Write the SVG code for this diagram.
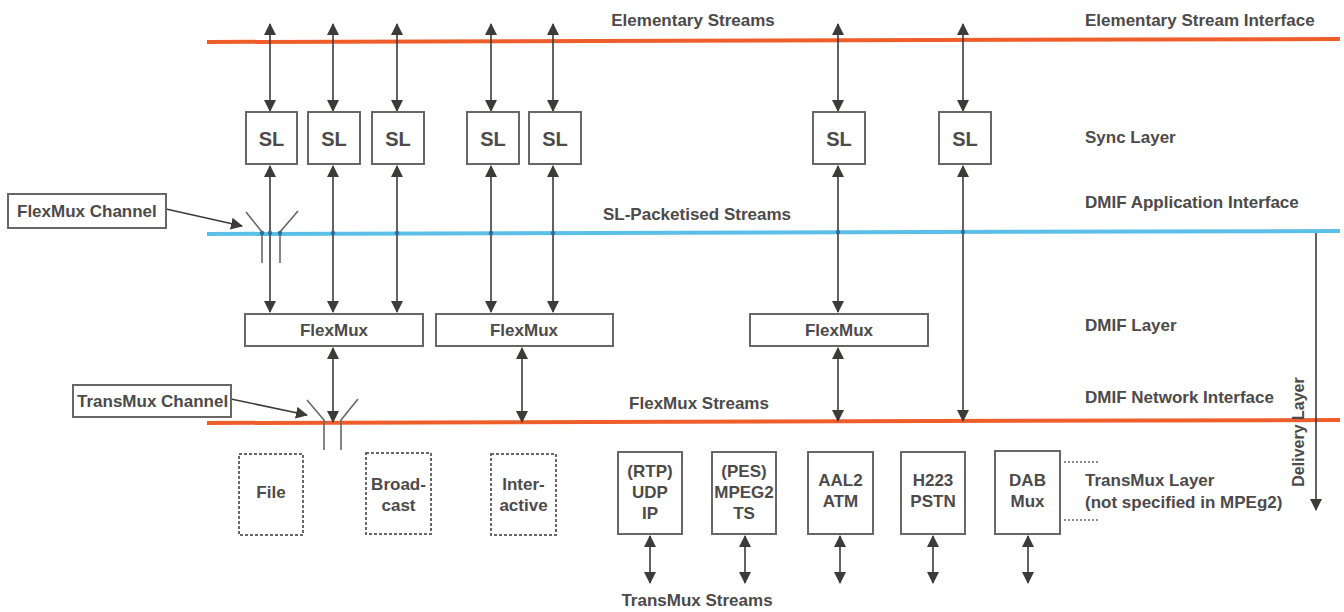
<svg xmlns="http://www.w3.org/2000/svg" width="1344" height="612" viewBox="0 0 1344 612">
<style>
text{font-family:"Liberation Sans",Arial,sans-serif;font-weight:bold;fill:#4d4a4a}
.lbl{font-size:17px}
.vl{font-size:16px}
.sl{font-size:20px;text-anchor:middle}
.box{fill:#fff;stroke:#6a6666;stroke-width:2}
.dbox{fill:#fff;stroke:#6a6666;stroke-width:2;stroke-dasharray:3 2}
.arr{stroke:#3d3a3a;stroke-width:1.6;fill:none}
.bi{marker-start:url(#ah);marker-end:url(#ah)}
.one{marker-end:url(#ah)}
.thin{stroke:#6a6666;stroke-width:1.6;fill:none}
.mid{text-anchor:middle}
</style>
<defs>
<marker id="ah" viewBox="0 0 12 12" refX="11" refY="6" markerWidth="12" markerHeight="12" markerUnits="userSpaceOnUse" orient="auto-start-reverse">
<path d="M0,0 L12,6 L0,12 Z" fill="#3d3a3a"/>
</marker>
</defs>

<g id="interfaces">
<line x1="207" y1="42" x2="1340" y2="39" stroke="#ef5e2a" stroke-width="4"/>
<line x1="207" y1="234" x2="1340" y2="231" stroke="#5cbfe8" stroke-width="4"/>
<line x1="207" y1="423" x2="1340" y2="420" stroke="#ef5e2a" stroke-width="4"/>
</g>

<g id="labels">
<text class="lbl mid" x="693" y="26">Elementary Streams</text>
<text class="lbl" x="1085" y="26">Elementary Stream Interface</text>
<text class="lbl" x="1085" y="143">Sync Layer</text>
<text class="lbl" x="1085" y="208">DMIF Application Interface</text>
<text class="lbl mid" x="697" y="220">SL-Packetised Streams</text>
<text class="lbl" x="1085" y="331">DMIF Layer</text>
<text class="lbl" x="1085" y="403">DMIF Network Interface</text>
<text class="lbl mid" x="699" y="409">FlexMux Streams</text>
<text class="lbl" x="1085" y="486">TransMux Layer</text>
<text class="lbl" x="1085" y="508">(not specified in MPEg2)</text>
<text class="lbl mid" x="697" y="606">TransMux Streams</text>
<text class="vl mid" x="1304" y="432" transform="rotate(-90 1304 432)">Delivery Layer</text>
</g>

<g id="connectors">
<line class="arr bi" x1="270" y1="24" x2="270" y2="111"/>
<line class="arr bi" x1="333" y1="24" x2="333" y2="111"/>
<line class="arr bi" x1="397" y1="24" x2="397" y2="111"/>
<line class="arr bi" x1="491" y1="24" x2="491" y2="111"/>
<line class="arr bi" x1="553" y1="24" x2="553" y2="111"/>
<line class="arr bi" x1="838" y1="24" x2="838" y2="111"/>
<line class="arr bi" x1="963" y1="24" x2="963" y2="111"/>
<line class="arr bi" x1="270" y1="166" x2="270" y2="312"/>
<line class="arr bi" x1="333" y1="166" x2="333" y2="312"/>
<line class="arr bi" x1="397" y1="166" x2="397" y2="312"/>
<line class="arr bi" x1="491" y1="166" x2="491" y2="312"/>
<line class="arr bi" x1="553" y1="166" x2="553" y2="312"/>
<line class="arr bi" x1="838" y1="166" x2="838" y2="312"/>
<line class="arr bi" x1="963" y1="166" x2="963" y2="421"/>
<line class="arr bi" x1="333" y1="348" x2="333" y2="422"/>
<line class="arr bi" x1="522" y1="348" x2="522" y2="422"/>
<line class="arr bi" x1="838" y1="348" x2="838" y2="421"/>
<line class="arr bi" x1="650" y1="536" x2="650" y2="583"/>
<line class="arr bi" x1="745" y1="536" x2="745" y2="583"/>
<line class="arr bi" x1="840" y1="536" x2="840" y2="583"/>
<line class="arr bi" x1="933" y1="536" x2="933" y2="583"/>
<line class="arr bi" x1="1028" y1="536" x2="1028" y2="583"/>
<line class="arr one" x1="1316" y1="233" x2="1316" y2="510"/>
<line class="arr one" x1="166" y1="209" x2="242" y2="226"/>
<line class="arr one" x1="231" y1="399" x2="307" y2="415"/>
<polyline class="thin" points="246,212 262,232 262,263"/>
<polyline class="thin" points="298,211 280,232 280,263"/>
<polyline class="thin" points="307,400 324,420 324,450"/>
<polyline class="thin" points="358,399 341,420 341,450"/>
<line x1="1064" y1="462" x2="1100" y2="462" stroke="#6a6666" stroke-width="1.5" stroke-dasharray="2 2"/>
<line x1="1064" y1="520" x2="1100" y2="520" stroke="#6a6666" stroke-width="1.5" stroke-dasharray="2 2"/>
<g fill="#2f6f95">
<circle cx="262" cy="233" r="2.2"/><circle cx="270" cy="233" r="2.2"/><circle cx="280" cy="233" r="2.2"/>
<circle cx="333" cy="233" r="2.2"/><circle cx="397" cy="233" r="2.2"/><circle cx="491" cy="233" r="2.2"/>
<circle cx="553" cy="233" r="2.2"/><circle cx="838" cy="232" r="2.2"/><circle cx="963" cy="232" r="2.2"/>
</g>
</g>

<g id="sl1"><rect class="box" x="246" y="112" width="51" height="52"/><text class="sl" x="271.5" y="146">SL</text></g>
<g id="sl2"><rect class="box" x="308" y="112" width="52" height="52"/><text class="sl" x="334" y="146">SL</text></g>
<g id="sl3"><rect class="box" x="372" y="112" width="52" height="52"/><text class="sl" x="398" y="146">SL</text></g>
<g id="sl4"><rect class="box" x="467" y="112" width="52" height="52"/><text class="sl" x="493" y="146">SL</text></g>
<g id="sl5"><rect class="box" x="529" y="112" width="52" height="52"/><text class="sl" x="555" y="146">SL</text></g>
<g id="sl6"><rect class="box" x="813" y="112" width="52" height="52"/><text class="sl" x="839" y="146">SL</text></g>
<g id="sl7"><rect class="box" x="939" y="112" width="52" height="52"/><text class="sl" x="965" y="146">SL</text></g>

<g id="flexmux1"><rect class="box" x="245" y="314" width="178" height="32"/><text class="lbl mid" x="334" y="336">FlexMux</text></g>
<g id="flexmux2"><rect class="box" x="436" y="314" width="177" height="32"/><text class="lbl mid" x="524" y="336">FlexMux</text></g>
<g id="flexmux3"><rect class="box" x="750" y="314" width="178" height="32"/><text class="lbl mid" x="839" y="336">FlexMux</text></g>

<g id="flexmux-channel"><rect class="box" x="8" y="194" width="158" height="34"/><text class="lbl" x="17" y="217">FlexMux Channel</text></g>
<g id="transmux-channel"><rect class="box" x="73" y="385" width="158" height="32"/><text class="lbl" x="77" y="407">TransMux Channel</text></g>

<g id="file"><rect class="dbox" x="239" y="454" width="64" height="81"/><text class="lbl mid" x="271" y="498">File</text></g>
<g id="broadcast"><rect class="dbox" x="366" y="453" width="65" height="81"/><text class="lbl mid" x="398.5" y="490">Broad-</text><text class="lbl mid" x="398.5" y="511">cast</text></g>
<g id="interactive"><rect class="dbox" x="491" y="454" width="65" height="81"/><text class="lbl mid" x="523.5" y="490">Inter-</text><text class="lbl mid" x="523.5" y="511">active</text></g>

<g id="rtp"><rect class="box" x="618" y="452" width="64" height="82"/><text class="lbl mid" x="650" y="477">(RTP)</text><text class="lbl mid" x="650" y="498">UDP</text><text class="lbl mid" x="650" y="519">IP</text></g>
<g id="pes"><rect class="box" x="712" y="452" width="64" height="82"/><text class="lbl mid" x="744" y="477">(PES)</text><text class="lbl mid" x="744" y="498">MPEG2</text><text class="lbl mid" x="744" y="519">TS</text></g>
<g id="aal2"><rect class="box" x="808" y="452" width="65" height="82"/><text class="lbl mid" x="840.5" y="486">AAL2</text><text class="lbl mid" x="840.5" y="507">ATM</text></g>
<g id="h223"><rect class="box" x="901" y="452" width="64" height="82"/><text class="lbl mid" x="933" y="486">H223</text><text class="lbl mid" x="933" y="507">PSTN</text></g>
<g id="dab"><rect class="box" x="995" y="451" width="65" height="83"/><text class="lbl mid" x="1027.5" y="486">DAB</text><text class="lbl mid" x="1027.5" y="507">Mux</text></g>
</svg>
